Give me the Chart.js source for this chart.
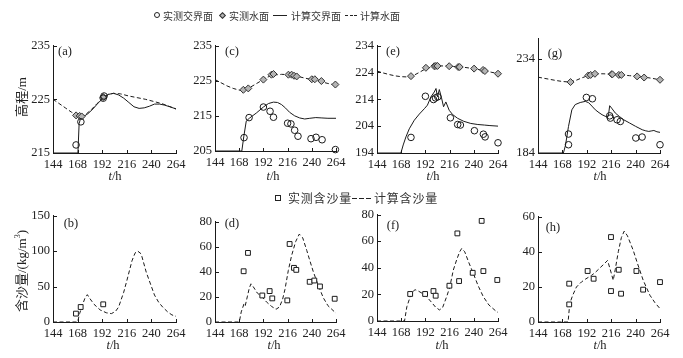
<!DOCTYPE html>
<html><head><meta charset="utf-8">
<script src="https://cdn.jsdelivr.net/npm/chart.js@4/dist/chart.umd.min.js"></script>
<style>
html,body{margin:0;padding:0;background:#fff;}
#wrap{position:relative;width:683px;height:358px;overflow:hidden;background:#fff;font-family:"Liberation Serif","Noto Sans CJK SC",serif;color:#222;}
canvas{position:absolute;}
.t{position:absolute;white-space:nowrap;z-index:5;}
.c{transform:translate(-50%,-50%);}
.cj{font-family:"Noto Sans CJK SC",sans-serif;}
.sym{position:absolute;z-index:5;box-sizing:border-box;}
</style></head>
<body><div id="wrap"></div>
<script>
// ---------- shared ticks ----------
const X_TICKS = [144, 168, 192, 216, 240, 264];
const A_Y_TICKS = [215, 225, 235];
const C_Y_TICKS = [205, 215, 225, 235];
const E_Y_TICKS = [194, 204, 214, 224, 234];
const G_Y_TICKS = [184, 234];
const B_Y_TICKS = [0, 50, 100, 150];
const D_Y_TICKS = [0, 20, 40, 60, 80];
const F_Y_TICKS = [0, 20, 40, 60, 80];
const H_Y_TICKS = [0, 20, 40, 60];

// ---------- panel (a) ----------
const aCalcInterface = [[144,215],[168.3,215],[169.5,220.5],[171,221.5],[174,221.8],[178,222.3],[183,223.2],[188,224.3],[193,225.2],[198,225.9],[203,226.1],[208,225.8],[213,225.2],[218,224.4],[223,223.6],[228,223.3],[233,223.4],[238,223.7],[243,224.1],[248,224.1],[253,223.9],[258,223.6],[264,223.2]];
const aCalcWater = [[144,225],[150,224.2],[156,223.4],[162,222.6],[168,222],[172,221.8],[176,222.2],[181,223],[187,224.2],[193,225.2],[198,225.9],[203,226.1],[210,226],[218,225.6],[226,225.3],[234,225],[242,224.6],[250,224.2],[257,223.7],[264,223.2]];
const aMeasInterface = [[166.5,216.5],[171.2,220.8],[193,225.2],[193.8,225.6]];
const aMeasWater = [[166.5,222],[170,221.9],[172,221.8],[193,225.4]];

// ---------- panel (c) ----------
const cCalcInterface = [[144,205],[170.6,205],[172.5,209],[175,213.5],[178,214.3],[185,215.8],[192,217.5],[197,218.5],[202,218.9],[206,218.8],[210,218.2],[214,217.2],[218,216],[223,215],[228,214.4],[233,214.1],[238,214.3],[244,214.5],[250,214.4],[256,214.3],[264,214.3]];
const cCalcWater = [[144,225.3],[150,224.4],[156,223.5],[162,222.8],[168,222.3],[172,222.2],[177,222.8],[183,223.8],[190,225],[196,226],[202,226.6],[210,226.8],[218,226.7],[225,226.3],[232,225.8],[240,225.3],[248,224.8],[256,224.2],[264,223.7]];
const cMeasInterface = [[172.8,208.8],[177.8,214.5],[192,217.5],[198.6,216.3],[202,214.6],[216,212.9],[219.3,212.7],[223,210.9],[226.3,209.2],[239.2,208.5],[244.2,208.9],[250.2,208.2],[263.4,205.4]];
const cMeasWater = [[172.1,222.4],[177,222.8],[192,225.3],[200,226.7],[202,226.9],[216.8,226.7],[220,226.7],[222.4,226.4],[225,226.2],[240,225.4],[243,225.4],[249.5,224.9],[263.4,223.9]];

// ---------- panel (e) ----------
const eCalcInterface = [[144,194],[167.7,194],[170,197],[172.7,200],[176,203],[181,206.2],[186,208.5],[191,210.5],[194,211.8],[197.5,214.9],[200.8,216.7],[202.5,218],[204,214.9],[205.8,217.6],[208,214.5],[210,211.2],[212.3,213],[215.6,209.9],[219,208.3],[224,206.9],[230,205.8],[237,205],[244,204.6],[250.5,204.4],[256,204.2],[264,204]];
const eCalcWater = [[144,224.5],[150,223.8],[156,223.2],[162,222.7],[168,222.4],[174,222.3],[180,222.8],[186,224],[192,225.3],[198,226],[204,226.4],[212,226.4],[220,226.2],[228,226],[236,225.6],[244,225.1],[252,224.5],[258,224],[264,223.6]];
const eMeasInterface = [[177.7,199.8],[192,215.1],[200,213.9],[202,214.5],[204.3,214.9],[216.8,207.1],[224,204.6],[226.7,204.4],[240.6,202.3],[249.5,201],[251.2,200],[264,197.8]];
const eMeasWater = [[177.7,222.6],[192.5,225.7],[200.8,226.3],[202.4,226.4],[204,226.4],[215.6,226.3],[224.5,226],[226,226],[240.3,225.4],[249.2,224.9],[251,224.5],[264,223.5]];

// ---------- panel (g) ----------
const gCalcInterface = [[144,184],[169,184],[171,188],[174,198.2],[177.3,207],[180.6,209.8],[185.5,210.9],[190.5,211.5],[193.8,210.8],[197,209],[200.4,207],[204,205.5],[207,204.4],[210,203.6],[212.5,203],[213.5,205],[214.5,209.2],[217,207.5],[220,205.3],[224,203.5],[228.3,201.7],[234,200],[240,198.2],[246.5,196.4],[250,195.8],[253,195.5],[256,195.8],[258,196],[261,195.3],[264,195]];
const gCalcWater = [[144,224.4],[150,223.8],[156,223.2],[162,222.6],[168,222.1],[175,221.8],[181,222.6],[187,224],[193.5,225.3],[200,226.2],[208,226.2],[216.5,226],[226,225.6],[234,225.2],[243,224.8],[250,224.3],[257,223.7],[264,223]];
const gMeasInterface = [[174,194.1],[174,188.4],[191.6,213.6],[197.5,212.9],[214.5,203.8],[215.2,202.6],[221.8,201.7],[225,200.8],[240.2,192],[246.4,192.5],[264,188.4]];
const gMeasWater = [[176,221.8],[193.5,225.3],[195.8,225.6],[200,226.2],[216.5,226],[217.2,225.9],[223.5,225.6],[226,225.6],[241.5,224.8],[248.4,224.2],[264,223]];

// ---------- sediment panels ----------
const bCalcSed = [[144,0],[168,0],[170,12],[173,25],[175,33],[177.5,38.5],[180,33],[184,25],[190,17],[196,13],[201,11.8],[205,15],[208,21],[213,42],[216,58],[221,86],[224,97],[226.5,100],[230,96],[235,70],[240,50],[243,38],[247,28],[251,21],[256,14],[260,10],[264,8]];
const bMeasSed = [[166.4,11.8],[171,21.1],[193,24.9]];

const dCalcSed = [[144,0],[168.1,0],[170,8],[172.8,14.6],[174,13],[176,20],[178,27],[179.7,30.4],[182,28],[186,23],[190.3,20.3],[195,16],[200,12.5],[204.5,10.1],[208,12],[211,18],[213.4,26],[216.7,41],[220,53],[224,64],[227.6,70],[231,67],[235,57],[238,49],[241.5,40],[246,30],[251.4,19.3],[256,13],[260,10],[264,7]];
const dMeasSed = [[172.4,40.4],[176.7,55],[190.9,21.1],[198.2,24.6],[200.8,18.8],[215.7,17.2],[218,62.1],[222.3,43.1],[224.6,41.5],[237.9,32],[242.5,33],[248.1,28.3],[262.7,18.5]];

const fCalcSed = [[144,0],[171.3,0],[173.6,10.7],[175.5,15],[177.5,19.5],[180,22.5],[181.8,23.5],[185,22.5],[191.7,19.5],[197,15],[202,10.5],[205.9,8.3],[209,10],[213.1,18.3],[216,25],[219.7,38.3],[223,46],[226,52],[228,54.5],[231,52],[235,44],[239.5,35.8],[244,27],[249.4,18.3],[255,12],[262.6,7],[264,6.5]];
const fMeasSed = [[176.9,20.3],[191.7,20.3],[200,22.5],[202.2,19],[215.8,26.5],[223.7,65.8],[225.4,30],[238.9,36.2],[247.8,75.2],[249.5,37.5],[263.3,30.8]];

const hCalcSed = [[144,0],[173.6,0],[175.2,10.4],[178,15],[181.8,19.9],[186.8,22.8],[191,24.5],[196.6,26.5],[200,28],[204.8,30.7],[209,33],[212.4,35],[215,30],[218,23.7],[220,30],[223,40],[226,48],[228.8,51.7],[232,49],[237.7,40.7],[242,33],[247.5,23.7],[254.1,15.2],[259,11],[264,7.6]];
const hMeasSed = [[174.7,21.8],[174.7,10],[192.8,29],[198.7,24.6],[215.8,48.3],[215.8,17.6],[223.4,29.7],[225.7,16.1],[240.8,29],[247.4,18.4],[264,22.7]];

// ---------- text ----------
const TOP_LEGEND = ['实测交界面', '实测水面', '计算交界面', '计算水面'];
const BOTTOM_LEGEND = ['实测含沙量', '计算含沙量'];
const PANEL_LABELS = ['(a)','(c)','(e)','(g)','(b)','(d)','(f)','(h)'];

// ---------- drawing ----------
const wrap = document.getElementById('wrap');
const INK = '#1a1a1a';
const pts = arr => arr.map(([x, y]) => ({x, y}));
const solid = d => ({data: pts(d), showLine: true, borderColor: INK, borderWidth: 1, pointRadius: 0, fill: false, clip: false});
const dashed = d => ({data: pts(d), showLine: true, borderColor: INK, borderWidth: 1, borderDash: [4, 2.5], pointRadius: 0, fill: false, clip: false});
const circles = d => ({data: pts(d), showLine: false, pointStyle: 'circle', pointRadius: 3.3, borderColor: INK, borderWidth: 1, backgroundColor: 'rgba(255,255,255,0)', clip: false});
const diamonds = d => ({data: pts(d), showLine: false, pointStyle: 'rectRot', pointRadius: 3.5, borderColor: '#333', borderWidth: 1, backgroundColor: '#b4b4b4', clip: false});
const squares = d => ({data: pts(d), showLine: false, pointStyle: 'rect', pointRadius: 3.4, borderColor: INK, borderWidth: 1, backgroundColor: '#fff', clip: false});

const inwardTicks = {
  id: 'inwardTicks',
  afterDraw(chart) {
    const ctx = chart.ctx, a = chart.chartArea, xs = chart.scales.x, ys = chart.scales.y;
    ctx.save();
    ctx.strokeStyle = INK; ctx.lineWidth = 1;
    ctx.beginPath();
    ys.ticks.forEach(t => { const p = Math.round(ys.getPixelForValue(t.value)) + 0.5; ctx.moveTo(a.left, p); ctx.lineTo(a.left + 4, p); });
    xs.ticks.forEach(t => { const p = Math.round(xs.getPixelForValue(t.value)) + 0.5; ctx.moveTo(p, a.bottom); ctx.lineTo(p, a.bottom - 3); });
    ctx.stroke();
    ctx.restore();
  }
};

const PADL = 40, PADT = 10, PADR = 14, PADB = 22;
function panel(L, T, R, B, ymin, ymax, yticks, datasets) {
  const cv = document.createElement('canvas');
  const w = Math.round(R - L) + PADL + PADR, h = Math.round(B - T) + PADT + PADB;
  cv.width = w; cv.height = h;
  cv.style.left = (Math.round(L) - PADL) + 'px';
  cv.style.top = (Math.round(T) - PADT) + 'px';
  cv.style.width = w + 'px'; cv.style.height = h + 'px';
  wrap.appendChild(cv);
  const tickFont = {family: '"Liberation Serif", serif', size: 12.5};
  new Chart(cv, {
    type: 'scatter',
    data: {datasets},
    plugins: [inwardTicks],
    options: {
      responsive: false, animation: false, devicePixelRatio: 1,
      layout: {padding: {left: 0, top: PADT, right: PADR, bottom: 0}, autoPadding: false},
      plugins: {legend: {display: false}, tooltip: {enabled: false}},
      scales: {
        x: {
          type: 'linear', min: 144, max: 264,
          afterBuildTicks: s => { s.ticks = X_TICKS.map(v => ({value: v})); },
          afterFit: s => { s.height = PADB; },
          grid: {display: true, drawOnChartArea: false, drawTicks: false, tickLength: 0},
          border: {display: true, color: INK, width: 1},
          ticks: {font: tickFont, color: '#222', padding: 4, maxRotation: 0, autoSkip: false}
        },
        y: {
          type: 'linear', min: ymin, max: ymax,
          afterBuildTicks: s => { s.ticks = yticks.map(v => ({value: v})); },
          afterFit: s => { s.width = PADL; },
          grid: {display: true, drawOnChartArea: false, drawTicks: false, tickLength: 0},
          border: {display: true, color: INK, width: 1},
          ticks: {font: tickFont, color: '#222', padding: 3, autoSkip: false}
        }
      }
    }
  });
}

panel(53, 45, 176, 153, 215, 235, A_Y_TICKS, [circles(aMeasInterface), diamonds(aMeasWater), solid(aCalcInterface), dashed(aCalcWater)]);
panel(215, 45, 336, 151, 205, 235, C_Y_TICKS, [circles(cMeasInterface), diamonds(cMeasWater), solid(cCalcInterface), dashed(cCalcWater)]);
panel(377, 45, 498, 153, 194, 234, E_Y_TICKS, [circles(eMeasInterface), diamonds(eMeasWater), solid(eCalcInterface), dashed(eCalcWater)]);
panel(538, 38, 660, 153, 184, 245, G_Y_TICKS, [circles(gMeasInterface), diamonds(gMeasWater), solid(gCalcInterface), dashed(gCalcWater)]);
panel(53, 215, 176, 322, 0, 150, B_Y_TICKS, [squares(bMeasSed), dashed(bCalcSed)]);
panel(215, 221, 336, 322, 0, 80, D_Y_TICKS, [squares(dMeasSed), dashed(dCalcSed)]);
panel(377, 214, 498, 321, 0, 80, F_Y_TICKS, [squares(fMeasSed), dashed(fCalcSed)]);
panel(538, 216, 660, 322, 0, 60, H_Y_TICKS, [squares(hMeasSed), dashed(hCalcSed)]);

// ---------- HTML text ----------
function txt(s, x, y, css, center) {
  const d = document.createElement('div');
  d.className = 't' + (center ? ' c' : '');
  d.innerHTML = s;
  d.style.left = x + 'px'; d.style.top = y + 'px';
  d.style.cssText += css || '';
  wrap.appendChild(d);
  return d;
}
function sym(x, y, w, h, css) {
  const d = document.createElement('div');
  d.className = 'sym';
  d.style.left = x + 'px'; d.style.top = y + 'px'; d.style.width = w + 'px'; d.style.height = h + 'px';
  d.style.cssText += css;
  wrap.appendChild(d);
}
// panel labels
const labPos = [[65,51],[232,51],[393,51],[555,53],[71,223],[232,223],[393,225],[553,227]];
PANEL_LABELS.forEach((s, i) => txt(s, labPos[i][0], labPos[i][1], 'font-size:12.5px;', true));
// x titles
[[115,176],[273,176],[433,176],[600,176],[113,345],[274,345],[442,345],[600,345]].forEach(p =>
  txt('<i>t</i>/h', p[0], p[1], 'font-size:12.5px;', true));
// y titles
txt('<span class="cj">高程</span>/m', 20, 97, 'font-size:13px;transform:translate(-50%,-50%) rotate(-90deg);');
txt('<span class="cj">含沙量</span>/(kg/m<sup style="font-size:8px">3</sup>)', 20, 271, 'font-size:13px;transform:translate(-50%,-50%) rotate(-90deg);');
// top legend
const LF = 'font-size:10px;line-height:11px;font-family:"Noto Sans CJK SC",sans-serif;color:#333;';
sym(154, 12, 6, 6, 'border:1px solid #222;border-radius:50%;');
txt(TOP_LEGEND[0], 163, 9.5, LF);
sym(220, 12.5, 5, 5, 'border:1px solid #333;background:#b4b4b4;transform:rotate(45deg);');
txt(TOP_LEGEND[1], 229, 9.5, LF);
sym(273, 15, 14, 1, 'background:#222;');
txt(TOP_LEGEND[2], 291, 9.5, LF);
sym(345, 15, 3, 1, 'background:#222;'); sym(349.5, 15, 3, 1, 'background:#222;'); sym(354, 15, 3, 1, 'background:#222;');
txt(TOP_LEGEND[3], 360, 9.5, LF);
// bottom legend
const LF2 = 'font-size:12px;line-height:12px;letter-spacing:0.8px;font-family:"Noto Sans CJK SC",sans-serif;color:#333;';
sym(275, 195, 6, 6, 'border:1px solid #222;');
txt(BOTTOM_LEGEND[0], 288, 192, LF2);
sym(352, 198, 5, 1, 'background:#222;'); sym(359, 198, 5, 1, 'background:#222;'); sym(366, 198, 5, 1, 'background:#222;');
txt(BOTTOM_LEGEND[1], 374, 192, LF2);
</script>
</body></html>
